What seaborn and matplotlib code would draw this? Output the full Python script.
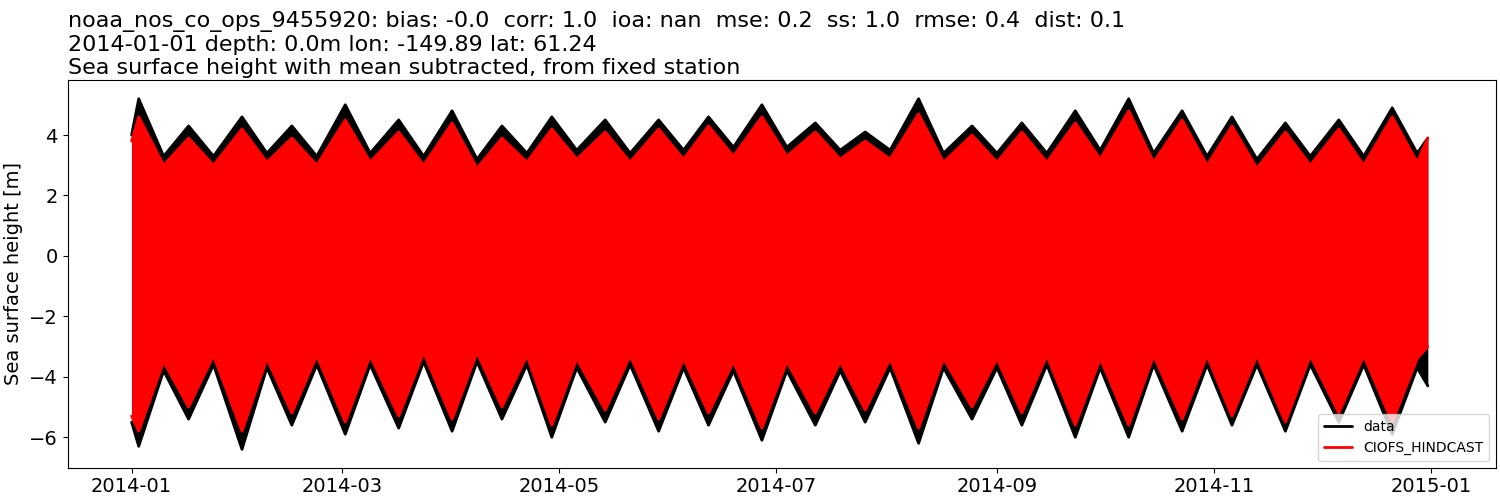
import numpy as np
import pandas as pd
import matplotlib
matplotlib.use("Agg")
import matplotlib.pyplot as plt
import seaborn as sns

# Envelope nodes (spring / neap extremes)
dates = ["2014-01-01","2014-01-03","2014-01-10","2014-01-17","2014-01-24","2014-02-01","2014-02-08",
         "2014-02-15","2014-02-22","2014-03-02","2014-03-09","2014-03-17","2014-03-24","2014-04-01",
         "2014-04-08","2014-04-15","2014-04-22","2014-04-29","2014-05-06","2014-05-14","2014-05-21",
         "2014-05-29","2014-06-05","2014-06-12","2014-06-19","2014-06-27","2014-07-04","2014-07-12",
         "2014-07-19","2014-07-26","2014-08-02","2014-08-10","2014-08-17","2014-08-25","2014-09-01",
         "2014-09-08","2014-09-15","2014-09-23","2014-09-30","2014-10-08","2014-10-15","2014-10-23",
         "2014-10-30","2014-11-06","2014-11-13","2014-11-21","2014-11-28","2014-12-06","2014-12-13",
         "2014-12-21","2014-12-28","2014-12-31"]
data_max = [4.0,5.2,3.3,4.3,3.3,4.6,3.4,4.3,3.3,5.0,3.4,4.5,3.3,4.8,3.2,4.3,3.4,4.6,3.5,4.5,3.4,
            4.5,3.5,4.6,3.6,5.0,3.6,4.4,3.5,4.1,3.5,5.2,3.4,4.3,3.4,4.4,3.4,4.8,3.5,5.2,3.4,4.8,
            3.3,4.6,3.2,4.4,3.3,4.5,3.3,4.9,3.4,3.9]
data_min = [-5.5,-6.3,-3.8,-5.4,-3.6,-6.4,-3.7,-5.6,-3.6,-5.9,-3.6,-5.7,-3.5,-5.8,-3.5,-5.4,-3.6,
            -6.0,-3.7,-5.5,-3.6,-5.8,-3.7,-5.6,-3.8,-6.1,-3.8,-5.6,-3.8,-5.5,-3.7,-6.2,-3.7,-5.4,
            -3.7,-5.6,-3.6,-6.0,-3.7,-6.0,-3.6,-5.8,-3.6,-5.6,-3.6,-5.8,-3.6,-5.5,-3.6,-5.9,-3.7,-4.3]
model_max = [3.8,4.6,3.0,3.9,3.0,4.2,3.1,3.9,3.0,4.5,3.1,4.1,3.0,4.4,2.9,3.9,3.1,4.2,3.2,4.1,3.1,
             4.2,3.2,4.3,3.3,4.6,3.3,4.1,3.2,3.8,3.2,4.7,3.1,4.0,3.1,4.1,3.1,4.4,3.2,4.8,3.1,4.5,
             3.0,4.3,2.9,4.1,3.0,4.2,3.0,4.6,3.1,3.9]
model_min = [-5.3,-5.8,-3.5,-5.0,-3.3,-5.8,-3.4,-5.2,-3.3,-5.5,-3.3,-5.3,-3.2,-5.4,-3.2,-5.0,-3.3,
             -5.6,-3.4,-5.1,-3.3,-5.4,-3.4,-5.2,-3.5,-5.7,-3.5,-5.2,-3.5,-5.1,-3.4,-5.7,-3.4,-5.0,
             -3.4,-5.2,-3.3,-5.6,-3.4,-5.6,-3.3,-5.4,-3.3,-5.3,-3.3,-5.5,-3.3,-5.2,-3.3,-5.5,-3.4,-3.0]

df = pd.DataFrame({"time": pd.to_datetime(dates), "data_max": data_max, "data_min": data_min,
                   "model_max": model_max, "model_min": model_min})

sns.set_style("ticks")
plt.rcParams["font.family"] = ["DejaVu Sans"]
for k in ["text.color", "axes.labelcolor", "xtick.color", "ytick.color", "axes.edgecolor"]:
    plt.rcParams[k] = "black"
fig, ax = plt.subplots(figsize=(15, 5), dpi=100)

ax.fill_between(df["time"], df["data_min"], df["data_max"], color="black", lw=0)
sns.lineplot(data=df, x="time", y="data_max", color="black", lw=2, ax=ax, label="data")
sns.lineplot(data=df, x="time", y="data_min", color="black", lw=2, ax=ax)
ax.fill_between(df["time"], df["model_min"], df["model_max"], color="red", lw=0)
sns.lineplot(data=df, x="time", y="model_max", color="red", lw=2, ax=ax, label="CIOFS_HINDCAST")
sns.lineplot(data=df, x="time", y="model_min", color="red", lw=2, ax=ax)

ax.set_xlim(pd.Timestamp("2013-12-14"), pd.Timestamp("2015-01-19"))
ax.set_ylim(-7.0, 5.82)
ax.set_xticks(pd.to_datetime(["2014-01-01","2014-03-01","2014-05-01","2014-07-01","2014-09-01","2014-11-01","2015-01-01"]))
ax.set_xticklabels(["2014-01","2014-03","2014-05","2014-07","2014-09","2014-11","2015-01"])
ax.set_yticks([-6,-4,-2,0,2,4])
ax.tick_params(labelsize=14, colors="black")
ax.set_xlabel("")
ax.set_ylabel("Sea surface height [m]", fontsize=14)
ax.set_title("noaa_nos_co_ops_9455920: bias: -0.0  corr: 1.0  ioa: nan  mse: 0.2  ss: 1.0  rmse: 0.4  dist: 0.1\n"
             "2014-01-01 depth: 0.0m lon: -149.89 lat: 61.24\n"
             "Sea surface height with mean subtracted, from fixed station", loc="left", fontsize=16,
            linespacing=1.2, pad=4)
ax.legend(loc="lower right", fontsize=10)
fig.subplots_adjust(left=0.045, right=0.997, top=0.84, bottom=0.065)
fig.savefig("out.png")
